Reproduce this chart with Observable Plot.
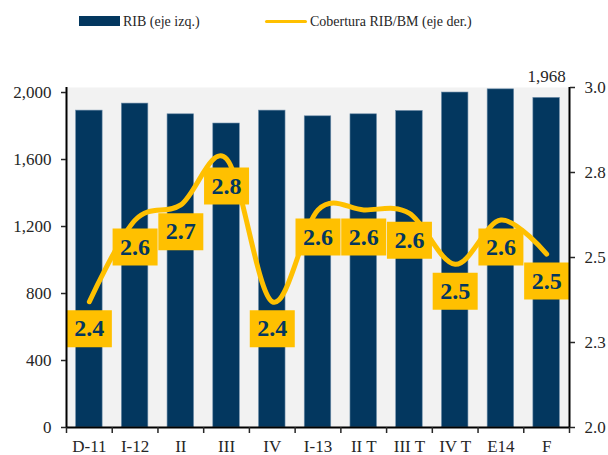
<!DOCTYPE html>
<html>
<head>
<meta charset="utf-8">
<script src="https://cdn.jsdelivr.net/npm/d3@7"></script>
<script src="https://cdn.jsdelivr.net/npm/@observablehq/plot@0.6"></script>
<style>
  body { margin: 0; background: #fff; }
  #wrap { width: 608px; height: 455px; position: relative; font-family: "Liberation Serif", serif; color: #262626; }
  #legend { position: relative; height: 40px; width: 608px; font-size: 14px; }
  .sw-bar { position: absolute; left: 79px; top: 16px; width: 41px; height: 10px; background: #03375f; }
  .sw-line { position: absolute; left: 265px; top: 19.5px; width: 42px; height: 3.5px; background: #FFC000; border-radius: 2px; }
  .lt { position: absolute; top: 14px; white-space: nowrap; }
</style>
</head>
<body>
<div id="wrap">
  <div id="legend">
    <div class="sw-bar"></div><div class="lt" style="left:123px">RIB (eje izq.)</div>
    <div class="sw-line"></div><div class="lt" style="left:310px">Cobertura RIB/BM (eje der.)</div>
  </div>
  <div id="chart"></div>
</div>
<script>
const categories = ["D-11","I-12","II","III","IV","I-13","II T","III T","IV T","E14","F"];
const rib = [1892,1934,1870,1815,1892,1858,1870,1890,2000,2019,1968];
const cobertura = [2.37,2.61,2.655,2.79,2.37,2.64,2.64,2.63,2.48,2.61,2.51];
const leftTicks = [0,400,800,1200,1600,2000];
const rightTicks = [2.0,2.25,2.5,2.75,3.0];
const rightTickLabels = ["2.0","2.3","2.5","2.8","3.0"];
const leftMax = 2030;
const rightMin = 2.0, rightMax = 3.0;

const navy = "#03375f";
const gold = "#FFC000";
const toLeft = v => (v - rightMin) / (rightMax - rightMin) * leftMax;

const data = categories.map((c, i) => ({i, cat: c, rib: rib[i], cob: cobertura[i]}));
const halfBar = 0.29;

const boxSymbol = { draw(ctx) { ctx.rect(-22.5, -18.5, 45, 37); } };

const chart = Plot.plot({
  width: 608,
  height: 415,
  marginTop: 47,
  marginBottom: 28,
  marginLeft: 66,
  marginRight: 39,
  style: { fontFamily: "Liberation Serif", fontSize: "17px", color: "#262626", background: "#fff" },
  x: { type: "linear", domain: [-0.5, categories.length - 0.5], axis: null },
  y: { domain: [0, leftMax], axis: null },
  marks: [
    Plot.frame({ fill: "#f2f2f2", stroke: null }),
    Plot.rectY(data, { x1: d => d.i - halfBar, x2: d => d.i + halfBar, y: "rib", fill: navy, stroke: "#6f8eaa", strokeWidth: 0.6 }),
    Plot.text(data.filter(d => d.cat === "F"), { x: "i", y: "rib", text: d => d3.format(",")(d.rib), dy: -21, fontSize: 17, fill: "#262626" }),
    Plot.line(data, { x: "i", y: d => toLeft(d.cob), stroke: gold, strokeWidth: 5, curve: "cardinal", strokeLinecap: "round", strokeLinejoin: "round" }),
    Plot.dot(data, { x: "i", y: d => toLeft(d.cob), symbol: boxSymbol, r: 10, fill: gold, stroke: null, dy: 27 }),
    Plot.text(data, { x: "i", y: d => toLeft(d.cob), text: d => d3.format(".1f")(d.cob), dy: 27, fill: navy, fontSize: 24, fontWeight: "bold", fontFamily: "Liberation Serif" }),
    Plot.ruleX([-0.5], { stroke: "#000", strokeWidth: 2 }),
    Plot.ruleX([categories.length - 0.5], { stroke: "#000", strokeWidth: 2 }),
    Plot.ruleY([0], { stroke: "#000", strokeWidth: 2 }),
    Plot.axisY({ anchor: "left", ticks: leftTicks, tickFormat: d3.format(","), tickSize: 5, tickPadding: 10, label: null, strokeWidth: 1.5 }),
    Plot.axisY({ anchor: "right", ticks: rightTicks.map(toLeft), tickFormat: (d, i) => rightTickLabels[i], tickSize: 5, tickPadding: 10, label: null, strokeWidth: 1.5 }),
    Plot.axisX({ ticks: d3.range(-0.5, categories.length, 1), tickFormat: () => "", tickSize: 6, label: null, strokeWidth: 1.5 }),
    Plot.axisX({ ticks: d3.range(categories.length), tickFormat: i => categories[i], tickSize: 0, tickPadding: 12, label: null })
  ]
});
document.getElementById("chart").appendChild(chart);
</script>
</body>
</html>
